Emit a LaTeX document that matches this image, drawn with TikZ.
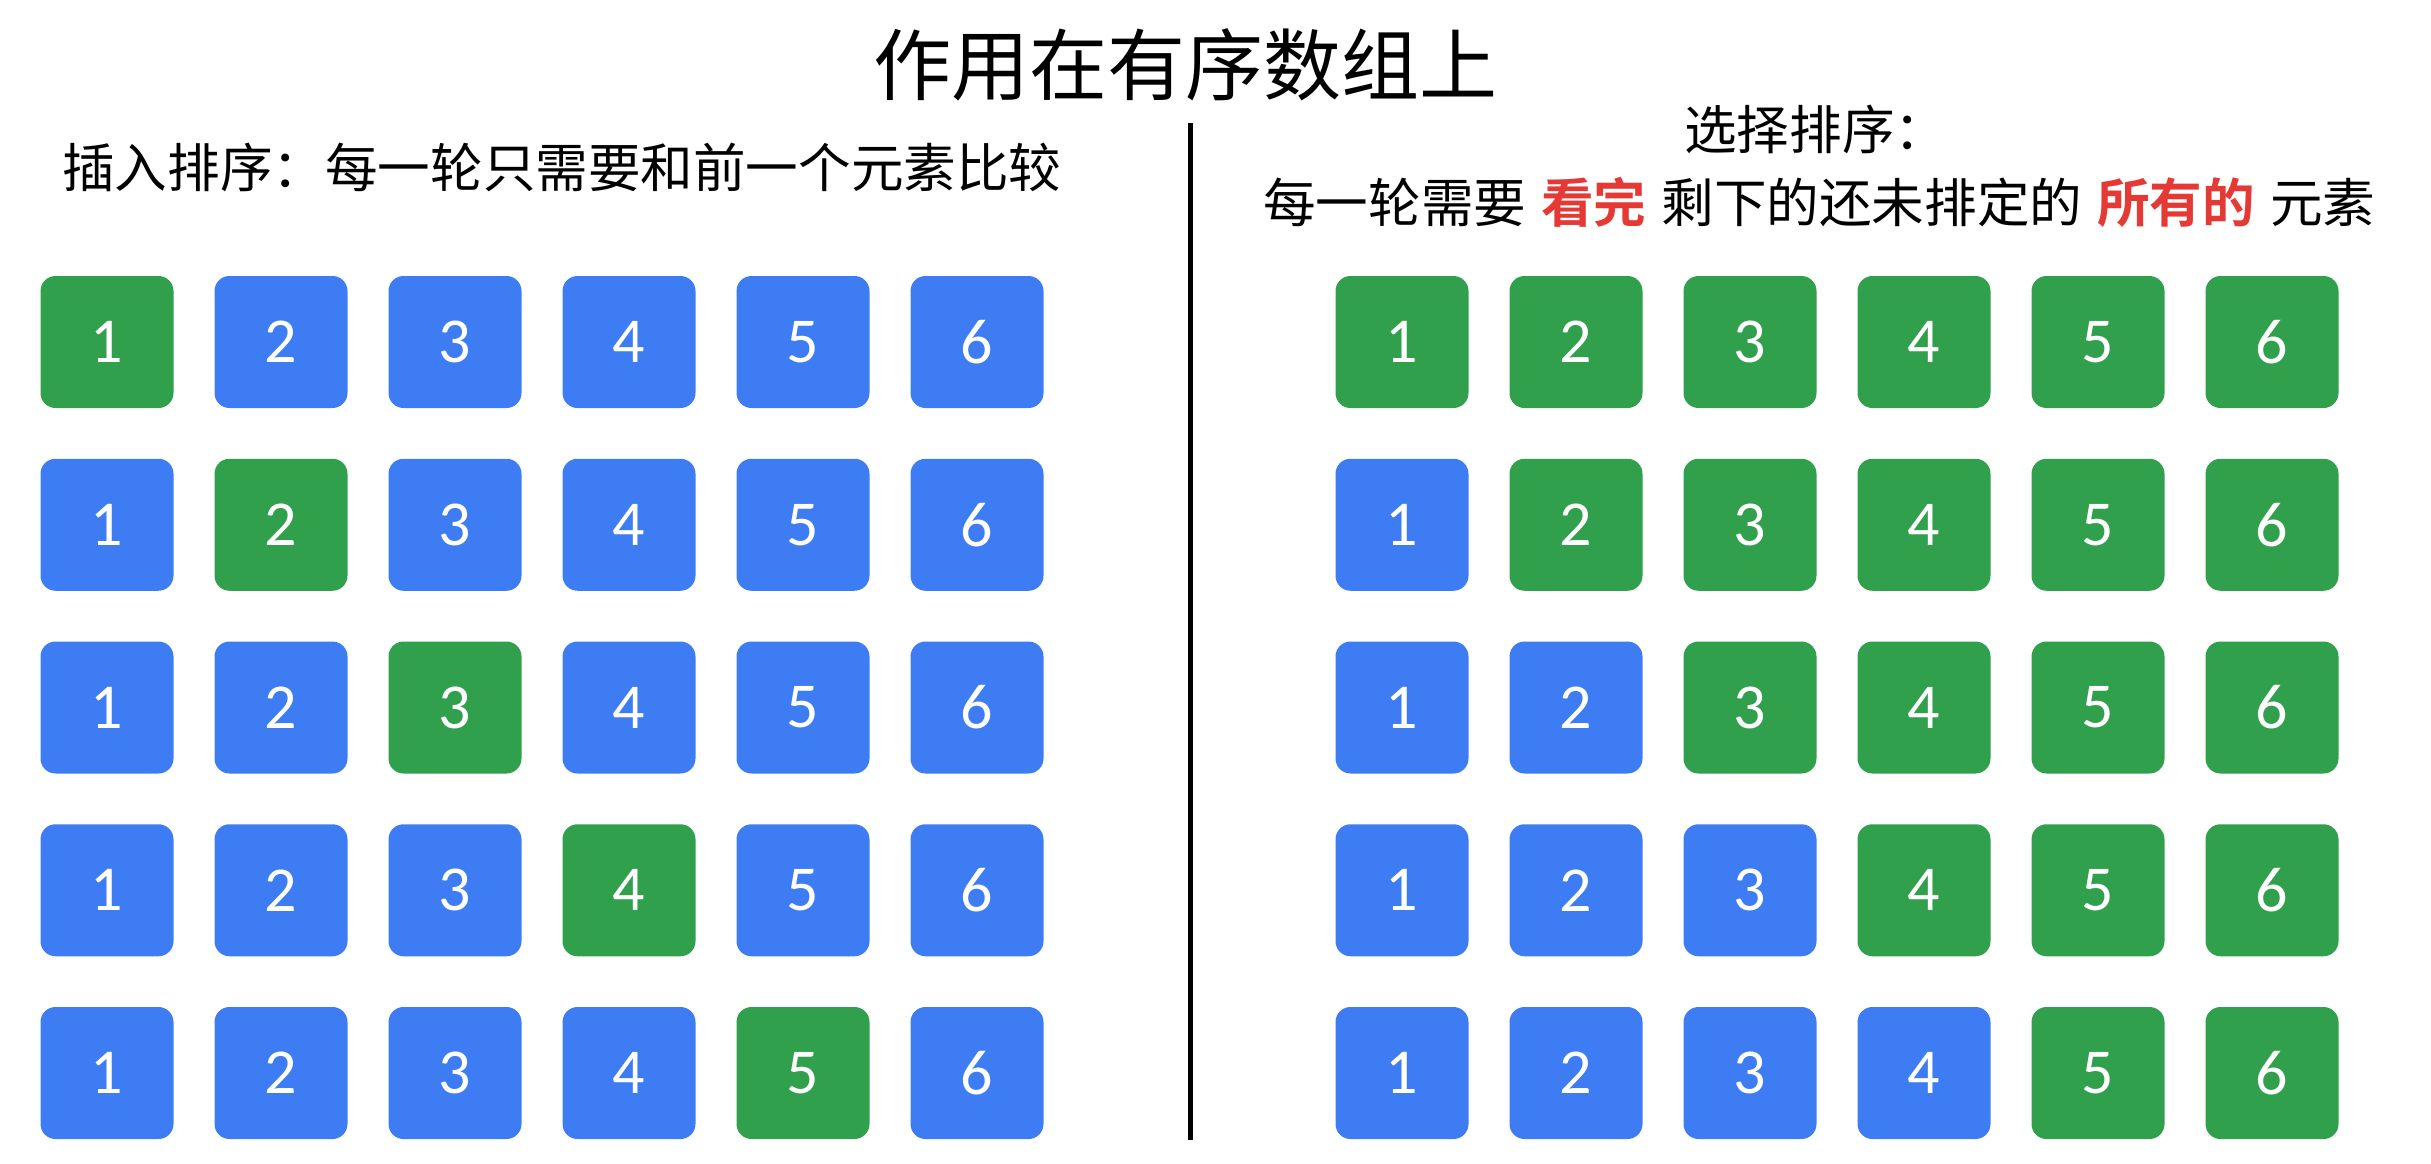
\documentclass[tikz,border=0pt]{standalone}
\usepackage{fontspec}
\setmainfont{Noto Sans CJK SC}[BoldFont={Noto Sans CJK SC Bold}]
\newfontfamily\digitfont{Carlito}
\definecolor{boxblue}{HTML}{3D7CF2}
\definecolor{boxgreen}{HTML}{30A04C}
\definecolor{hlred}{HTML}{E53935}
\newcommand{\gapsp}{\hspace{15pt}}
\begin{document}
\begin{tikzpicture}[x=1pt,y=-1pt,
  cell/.style={rounded corners=15pt, minimum width=133pt, minimum height=132pt, inner sep=0pt,
    text=white, font=\digitfont\fontsize{64}{70}\selectfont},
  bl/.style={cell, fill=boxblue},
  gr/.style={cell, fill=boxgreen},
  hdr/.style={inner sep=0pt, font=\fontsize{52.6}{60}\selectfont, anchor=west}]
\useasboundingbox (0,0) rectangle (2431,1164);
\node[inner sep=0pt, font=\fontsize{78}{90}\selectfont] (title) at (1185,65) {作用在有序数组上};
\node[hdr] (lhead) at (62,167) {插入排序：每一轮只需要和前一个元素比较};
\node[hdr] (rhead1) at (1684,129) {选择排序：};
\node[hdr] (rhead2) at (1263,202) {每一轮需要\gapsp{\bfseries\color{hlred}看完}\gapsp 剩下的还未排定的\gapsp{\bfseries\color{hlred}所有的}\gapsp 元素};
\coordinate (ltop) at (1190,123);
\coordinate (lbot) at (1190,1140);
\draw[line width=5pt] (ltop) -- (lbot);
% left: insertion sort
\foreach \r in {1,...,5} {
  \foreach \c in {1,...,6} {
    \pgfmathsetmacro{\xx}{107+174*(\c-1)}
    \pgfmathsetmacro{\yy}{342+182.75*(\r-1)}
    \ifnum\c=\r
      \node[gr] (L\r\c) at (\xx,\yy) {\c};
    \else
      \node[bl] (L\r\c) at (\xx,\yy) {\c};
    \fi
  }
}
% right: selection sort
\foreach \r in {1,...,5} {
  \foreach \c in {1,...,6} {
    \pgfmathsetmacro{\xx}{1402+174*(\c-1)}
    \pgfmathsetmacro{\yy}{342+182.75*(\r-1)}
    \ifnum\c<\r
      \node[bl] (R\r\c) at (\xx,\yy) {\c};
    \else
      \node[gr] (R\r\c) at (\xx,\yy) {\c};
    \fi
  }
}
\end{tikzpicture}
\end{document}
